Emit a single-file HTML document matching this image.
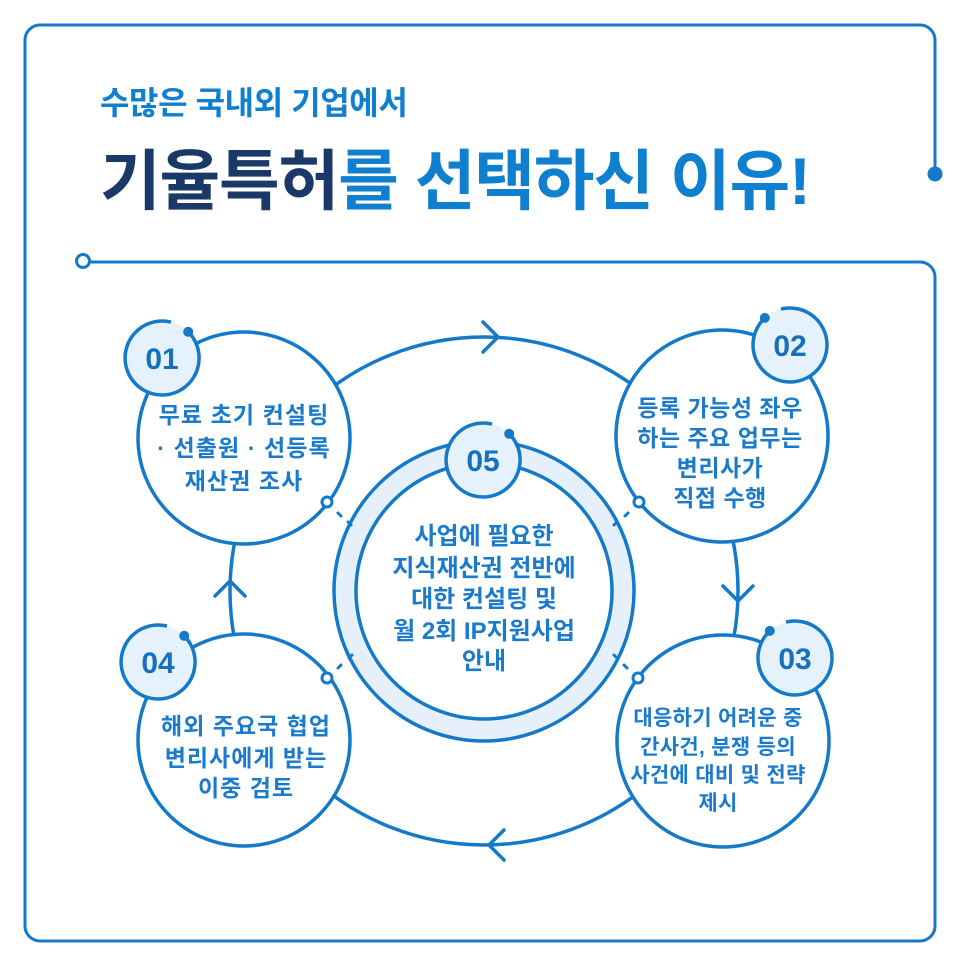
<!DOCTYPE html>
<html>
<head>
<meta charset="utf-8">
<style>
html,body{margin:0;padding:0;background:#fff;}
svg{display:block;}
text{font-family:"Liberation Sans","Noto Sans CJK KR",sans-serif;}
</style>
</head>
<body>
<svg width="966" height="966" viewBox="0 0 966 966" xmlns="http://www.w3.org/2000/svg">
<rect width="966" height="966" fill="#fff"/>
<!-- frame -->
<path d="M935,174 V40 A15,15 0 0 0 920,25 H40 A15,15 0 0 0 25,40 V926 A15,15 0 0 0 40,941 H920 A15,15 0 0 0 935,926 V277 A15,15 0 0 0 920,262 H90" fill="none" stroke="#1479c9" stroke-width="3"/>
<circle cx="935" cy="174" r="7.5" fill="#1479c9"/>
<circle cx="83" cy="261" r="6.5" fill="#fff" stroke="#1479c9" stroke-width="3"/>

<!-- titles -->
<text x="100" y="114" font-size="32" font-weight="700" fill="#0f7fd0" letter-spacing="-0.4">수많은 국내외 기업에서</text>
<text x="100" y="204" font-size="66" font-weight="700" letter-spacing="-1.2"><tspan fill="#1a3868">기율특허</tspan><tspan fill="#0f7fd0">를 선택하신 이유!</tspan></text>

<!-- cycle -->
<circle cx="484" cy="591" r="254" fill="none" stroke="#1479c9" stroke-width="3.5"/>
<g fill="none" stroke="#1479c9" stroke-width="3.5" stroke-linecap="round" stroke-linejoin="round">
<polyline points="483,322 498,337 483,352"/>
<polyline points="723,586 738,601 753,586"/>
<polyline points="504,830 489,845 504,860"/>
<polyline points="215,596 230,581 245,596"/>
</g>

<!-- center ring 05 -->
<circle cx="484" cy="591" r="139" fill="none" stroke="#e5f0fb" stroke-width="22"/>
<circle cx="484" cy="591" r="150" fill="none" stroke="#1479c9" stroke-width="3.5"/>
<circle cx="484" cy="591" r="128" fill="#fff" stroke="#1479c9" stroke-width="3.5"/>

<!-- step circles -->
<g fill="#fff" stroke="#1479c9" stroke-width="3.5">
<circle cx="244" cy="438" r="106"/>
<circle cx="722" cy="436" r="106"/>
<circle cx="723" cy="741" r="106"/>
<circle cx="244" cy="740" r="106"/>
</g>

<!-- dashed ticks -->
<g stroke="#1479c9" stroke-width="3" stroke-linecap="round">
<line x1="338" y1="513" x2="341" y2="516"/>
<line x1="348" y1="522" x2="351" y2="525"/>
<line x1="628" y1="513" x2="625" y2="516"/>
<line x1="617" y1="522" x2="614" y2="525"/>
<line x1="627" y1="668" x2="624" y2="665"/>
<line x1="617" y1="658" x2="614" y2="655"/>
<line x1="338" y1="668" x2="341" y2="665"/>
<line x1="349" y1="658" x2="352" y2="655"/>
</g>
<g fill="#fff" stroke="#1479c9" stroke-width="3">
<circle cx="327" cy="502" r="5"/>
<circle cx="639" cy="502" r="5"/>
<circle cx="638" cy="678" r="5"/>
<circle cx="327" cy="678" r="5"/>
</g>

<!-- badges -->
<g fill="#e5f1fb"><circle cx="162" cy="358" r="37"/><circle cx="790" cy="345" r="37"/><circle cx="795" cy="658" r="37"/><circle cx="158" cy="662" r="37"/><circle cx="483" cy="460" r="37"/></g>
<g fill="none" stroke="#1479c9" stroke-width="3.5">
<path d="M188.2,331.8 A37,37 0 1 1 171,322.1"/>
<path d="M184.2,635.8 A37,37 0 1 1 167,626.1"/>
<path d="M509.2,433.8 A37,37 0 1 1 492,424.1"/>
<path d="M781,309.1 A37,37 0 1 1 764.8,317.9"/>
<path d="M786,622.1 A37,37 0 1 1 769.8,630.9"/>
</g>
<g fill="#1479c9">
<circle cx="188.2" cy="331.8" r="5"/>
<circle cx="184.2" cy="635.8" r="5"/>
<circle cx="509.2" cy="433.8" r="5"/>
<circle cx="764.8" cy="317.9" r="5"/>
<circle cx="769.8" cy="630.9" r="5"/>
</g>
<g font-size="30" font-weight="700" fill="#1670bd" text-anchor="middle">
<text x="162" y="369">01</text>
<text x="790" y="356">02</text>
<text x="795" y="669">03</text>
<text x="158" y="673">04</text>
<text x="483" y="471">05</text>
</g>

<!-- step texts -->
<g font-weight="700" fill="#1a7acb" text-anchor="middle">
<g font-size="23" letter-spacing="1.1">
<text x="244" y="423">무료 초기 컨설팅</text>
<text x="244" y="456">· 선출원 · 선등록</text>
<text x="244" y="489">재산권 조사</text>
</g>
<g font-size="23" letter-spacing="0.5">
<text x="720" y="416">등록 가능성 좌우</text>
<text x="720" y="446">하는 주요 업무는</text>
<text x="720" y="476">변리사가</text>
<text x="720" y="506">직접 수행</text>
</g>
<g font-size="21" letter-spacing="0.3">
<text x="718" y="725">대응하기 어려운 중</text>
<text x="718" y="754">간사건, 분쟁 등의</text>
<text x="718" y="782">사건에 대비 및 전략</text>
<text x="718" y="810">제시</text>
</g>
<g font-size="23" letter-spacing="1">
<text x="246" y="734">해외 주요국 협업</text>
<text x="246" y="766">변리사에게 받는</text>
<text x="246" y="796">이중 검토</text>
</g>
<g font-size="24" letter-spacing="0">
<text x="484" y="544">사업에 필요한</text>
<text x="484" y="576">지식재산권 전반에</text>
<text x="484" y="607">대한 컨설팅 및</text>
<text x="484" y="639">월 2회 IP지원사업</text>
<text x="484" y="669">안내</text>
</g>
</g>
</svg>
</body>
</html>
